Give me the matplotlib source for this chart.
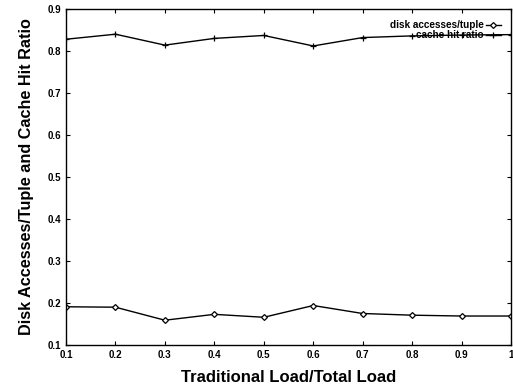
import matplotlib
matplotlib.use("Agg")
import matplotlib.pyplot as plt

x = [0.1, 0.2, 0.3, 0.4, 0.5, 0.6, 0.7, 0.8, 0.9, 1.0]
disk = [0.191, 0.190, 0.159, 0.173, 0.166, 0.194, 0.175, 0.171, 0.169, 0.169]
cache = [0.828, 0.840, 0.814, 0.830, 0.837, 0.812, 0.832, 0.836, 0.838, 0.839]
xtick_labels = ['0.1', '0.2', '0.3', '0.4', '0.5', '0.6', '0.7', '0.8', '0.9', '1']
yticks = [0.1, 0.2, 0.3, 0.4, 0.5, 0.6, 0.7, 0.8, 0.9]
ytick_labels = ['0.1', '0.2', '0.3', '0.4', '0.5', '0.6', '0.7', '0.8', '0.9']

plt.rcParams['font.family'] = ['Liberation Sans', 'DejaVu Sans']
plt.rcParams['font.weight'] = 'bold'

fig = plt.figure(figsize=(5.13, 3.89), dpi=100)
W, H = 513, 389
ax = fig.add_axes([66 / W, 1 - 345 / H, (511 - 66) / W, (345 - 9) / H])

ax.plot(x, disk, color='black', lw=1.0, marker='D', markersize=3,
        markerfacecolor='white', markeredgecolor='black', markeredgewidth=0.9,
        label='disk accesses/tuple')
ax.plot(x, cache, color='black', lw=1.0, marker='+', markersize=5,
        markeredgewidth=0.9, label='cache hit ratio')

ax.set_xlim(0.1, 1.0)
ax.set_ylim(0.1, 0.9)
ax.set_xticks(x)
ax.set_xticklabels(xtick_labels)
ax.set_yticks(yticks)
ax.set_yticklabels(ytick_labels)
ax.tick_params(direction='in', top=True, right=True, length=3, width=0.8,
               labelsize=7, pad=3.5)
for lab in ax.get_xticklabels() + ax.get_yticklabels():
    lab.set_fontweight('bold')
for s in ax.spines.values():
    s.set_linewidth(1.0)

ax.set_xlabel('Traditional Load/Total Load', fontsize=12, fontweight='bold', labelpad=7)
ax.set_ylabel('Disk Accesses/Tuple and Cache Hit Ratio', fontsize=11.7, fontweight='bold', labelpad=10)

leg = ax.legend(loc='upper right', bbox_to_anchor=(0.982, 0.973), frameon=False,
                fontsize=7.2, markerfirst=False, handlelength=1.5, handletextpad=0.2,
                labelspacing=0.0, borderpad=0.2, borderaxespad=0.0)
for t in leg.get_texts():
    t.set_fontweight('bold')

fig.savefig('out.png', dpi=100)
